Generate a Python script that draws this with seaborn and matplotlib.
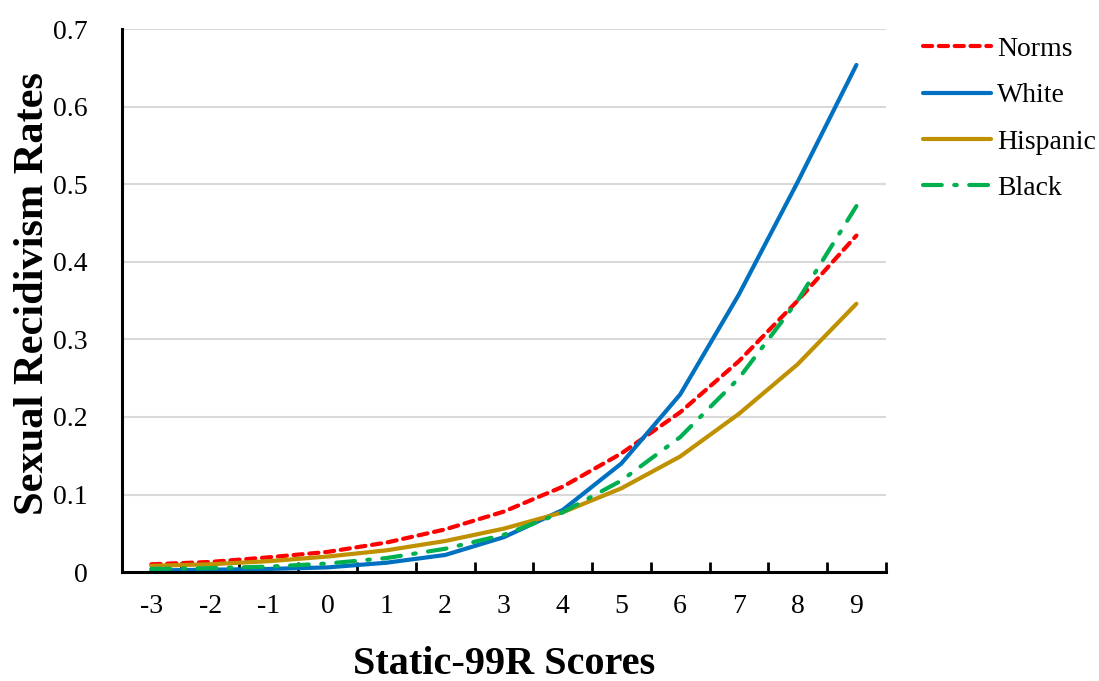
import matplotlib
matplotlib.use("Agg")
import matplotlib.pyplot as plt
import seaborn as sns
import pandas as pd
import numpy as np

scores = [-3, -2, -1, 0, 1, 2, 3, 4, 5, 6, 7, 8, 9]
norms = [0.010, 0.013, 0.019, 0.026, 0.038, 0.055, 0.078, 0.110, 0.153, 0.206, 0.272, 0.350, 0.434]
white = [0.002, 0.003, 0.004, 0.006, 0.012, 0.022, 0.045, 0.080, 0.140, 0.229, 0.358, 0.503, 0.654]
hispanic = [0.008, 0.010, 0.014, 0.020, 0.028, 0.040, 0.056, 0.077, 0.108, 0.149, 0.204, 0.268, 0.346]
black = [0.004, 0.005, 0.007, 0.011, 0.018, 0.030, 0.048, 0.077, 0.118, 0.174, 0.250, 0.350, 0.472]
series_names = ["Norms", "White", "Hispanic", "Black"]
y_ticks = [0, 0.1, 0.2, 0.3, 0.4, 0.5, 0.6, 0.7]
y_tick_labels = ["0", "0.1", "0.2", "0.3", "0.4", "0.5", "0.6", "0.7"]

sns.set_theme(style="white")
plt.rcParams['font.family'] = ['Liberation Serif', 'DejaVu Serif']
plt.rcParams['text.color'] = 'black'
plt.rcParams['axes.labelcolor'] = 'black'
plt.rcParams['xtick.color'] = 'black'
plt.rcParams['ytick.color'] = 'black'

df = pd.DataFrame({
    "score": scores * 4,
    "rate": norms + white + hispanic + black,
    "group": sum([[n] * len(scores) for n in series_names], []),
})

fig = plt.figure(figsize=(10.99, 6.81), dpi=100)
ax = fig.add_axes([0.111, 0.160, 0.695, 0.797])

styles = {
    "Norms": dict(color="#FF0000", dashes=(2.2, 1.6)),
    "White": dict(color="#0070C0", dashes=None),
    "Hispanic": dict(color="#BF9000", dashes=None),
    "Black": dict(color="#00B050", dashes=(4.5, 3.0, 0.6, 3.0)),
}

for name in series_names:
    sub = df[df["group"] == name]
    st = styles[name]
    sns.lineplot(data=sub, x="score", y="rate", color=st["color"], linewidth=3.0,
                 solid_capstyle="round", dash_capstyle="round", label=name,
                 ax=ax, legend=False)
    ln = ax.lines[-1]
    if st["dashes"] is not None:
        ln.set_dashes(st["dashes"])

ax.set_xlim(-3.5, 9.5)
ax.set_ylim(0, 0.7)
ax.set_yticks(y_ticks)
ax.set_yticklabels(y_tick_labels)
ax.set_xticks(scores)
ax.set_xticklabels([str(s) for s in scores])
ax.set_xticks(np.arange(-3.5, 9.6, 1.0), minor=True)
ax.tick_params(axis="x", which="major", length=0, labelsize=20, pad=16)
ax.tick_params(axis="x", which="minor", length=7, width=2, direction="in", bottom=True)
ax.tick_params(axis="y", which="major", length=0, labelsize=20, pad=24.5)

ax.yaxis.grid(True, color="#d9d9d9", linewidth=1.5)
ax.xaxis.grid(False)
ax.set_axisbelow(True)
for s in ["top", "right"]:
    ax.spines[s].set_visible(False)
for s in ["left", "bottom"]:
    ax.spines[s].set_visible(True)
    ax.spines[s].set_color("black")
    ax.spines[s].set_linewidth(2.2)

ax.set_xlabel("Static-99R Scores", fontsize=29, fontweight="bold", labelpad=19)
ax.set_ylabel("Sexual Recidivism Rates", fontsize=30.5, fontweight="bold", labelpad=1)
ax.yaxis.label.set_y(0.513)

leg = fig.legend(handles=ax.lines, labels=series_names, loc="upper left",
                 bbox_to_anchor=(0.840, 0.946), bbox_transform=fig.transFigure,
                 frameon=False, fontsize=20, borderpad=0, borderaxespad=0,
                 handlelength=2.45, handletextpad=0.2, labelspacing=0.75)

fig.savefig("out.png", dpi=100)
